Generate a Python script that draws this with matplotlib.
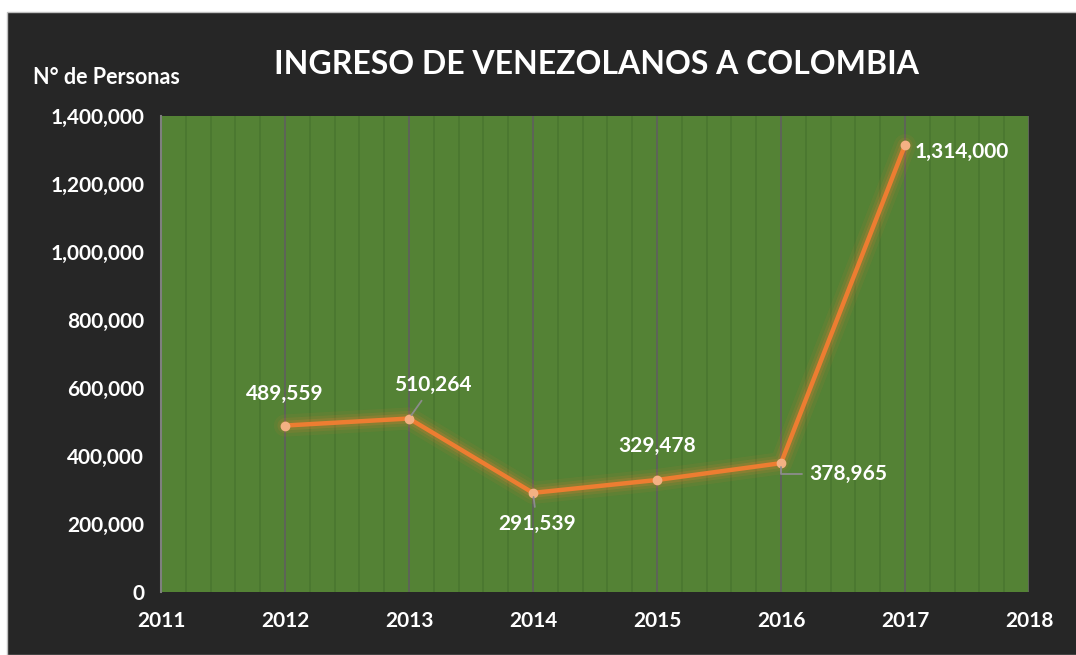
import matplotlib.pyplot as plt
from matplotlib.patches import Rectangle
from matplotlib.ticker import FuncFormatter, MultipleLocator

years = [2012, 2013, 2014, 2015, 2016, 2017]
ingresos = [489559, 510264, 291539, 329478, 378965, 1314000]
title = 'INGRESO DE VENEZOLANOS A COLOMBIA'
ylabel = 'N° de Personas'

# label offsets in pixels, and the leader line style (None = no leader)
label_offsets = [(0, 32), (24, 34), (4, -31), (0, 34), (67, -11), (57, -7)]
leaders = [None, 'arc3', 'arc3', None, 'angle,angleA=0,angleB=90,rad=0', None]

plt.rcParams['font.family'] = ['Lato', 'DejaVu Sans']
plt.rcParams['font.weight'] = 'bold'

fig = plt.figure(figsize=(10.76, 6.55), dpi=100)
fig.patch.set_facecolor('white')
# dark chart area with a thin grey frame
fig.patches.append(Rectangle((7 / 1076, 0), 1, 1 - 12 / 655, transform=fig.transFigure,
                             facecolor='#262626', edgecolor='#bfbfbf', lw=1, zorder=-10))

ax = fig.add_axes([161 / 1076, 1 - 592 / 655, 868 / 1076, 476 / 655])
ax.set_zorder(1)
ax.set_facecolor('#548235')

orange = '#ED7D31'
# glow
for lw, a in [(16, 0.08), (11, 0.12), (7, 0.2)]:
    ax.plot(years, ingresos, color=orange, lw=lw, alpha=a, solid_capstyle='round', zorder=3)
ax.plot(years, ingresos, color=orange, lw=3.2, zorder=4)
ax.plot(years, ingresos, 'o', ms=6, color='#F4B183', mec='#F4B183', zorder=5)

for x, y, off, lead in zip(years, ingresos, label_offsets, leaders):
    ax.annotate(f'{y:,}', (x, y), xytext=off, textcoords='offset pixels',
                ha='center', va='center', color='white', fontsize=15, fontweight='bold',
                zorder=6,
                arrowprops=dict(arrowstyle='-', color='#8c8c8c', lw=1.3,
                                shrinkA=3, shrinkB=3, connectionstyle=lead) if lead else None)

ax.set_xlim(2011, 2018)
ax.set_ylim(0, 1400000)
ax.xaxis.set_major_locator(MultipleLocator(1))
ax.xaxis.set_minor_locator(MultipleLocator(0.2))
ax.yaxis.set_major_locator(MultipleLocator(200000))
ax.yaxis.set_major_formatter(FuncFormatter(lambda v, p: f'{int(v):,}'))

ax.grid(True, axis='x', which='major', color='#5f5f5f', lw=1.2, zorder=1)
ax.grid(True, axis='x', which='minor', color='#4a7630', lw=1.2, zorder=1)
ax.set_axisbelow(True)

ax.tick_params(axis='both', which='both', length=0, colors='white', labelsize=15)
ax.tick_params(axis='y', labelsize=15, pad=12)
ax.tick_params(axis='x', pad=14)
for lbl in ax.get_xticklabels() + ax.get_yticklabels():
    lbl.set_fontweight('bold')

for side in ['top', 'right', 'bottom']:
    ax.spines[side].set_visible(False)
ax.spines['left'].set_color('#7f7f7f')
ax.spines['left'].set_linewidth(1.5)

fig.text(597 / 1076, 1 - 64 / 655, title, ha='center', va='center', color='white',
         fontsize=23, fontweight='bold')
fig.text(33 / 1076, 1 - 77 / 655, ylabel, ha='left', va='center', color='white',
         fontsize=15.5, fontweight='bold')

fig.savefig('out.png', dpi=100)
